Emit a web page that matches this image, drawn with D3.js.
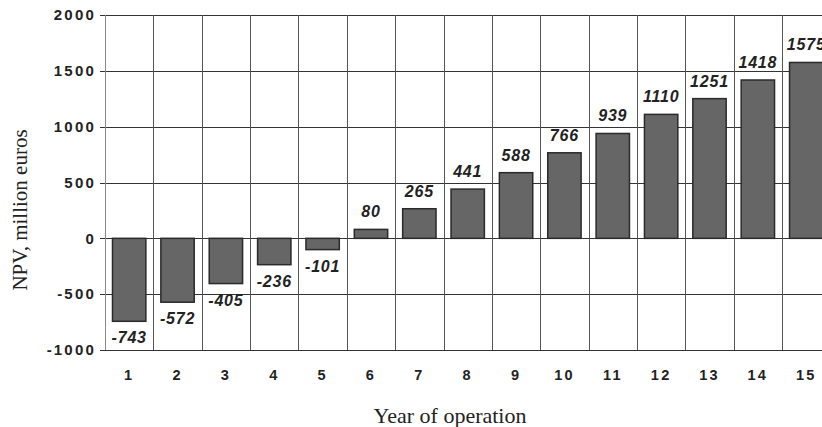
<!doctype html>
<html>
<head>
<meta charset="UTF-8">
<title>NPV</title>
<script src="https://d3js.org/d3.v7.min.js"></script>
<style>
  body { margin: 0; background: #fff; }
  svg { display: block; }
</style>
</head>
<body>
<script>
var years = [1, 2, 3, 4, 5, 6, 7, 8, 9, 10, 11, 12, 13, 14, 15];
var npv = [-743, -572, -405, -236, -101, 80, 265, 441, 588, 766, 939, 1110, 1251, 1418, 1575];
var yTicks = [-1000, -500, 0, 500, 1000, 1500, 2000];

var w = 822, h = 427;
var pLeft = 105, pTop = 15, pRight = 830.4, pBottom = 350;

var svg = d3.select("body").append("svg")
    .attr("width", w)
    .attr("height", h);

var x = d3.scaleBand()
    .domain(years)
    .range([pLeft, pRight])
    .paddingInner(0.31)
    .paddingOuter(0.155);

var step = (pRight - pLeft) / years.length;

var y = d3.scaleLinear()
    .domain([-1000, 2000])
    .range([pBottom, pTop]);

//grid-----------------------
var grid = svg.append("g");
grid.selectAll("line.h")
    .data(yTicks)
    .enter().append("line")
    .attr("class", "h")
    .attr("x1", pLeft - 5)
    .attr("x2", pRight)
    .attr("y1", function(d){ return Math.round(y(d)) + 0.5; })
    .attr("y2", function(d){ return Math.round(y(d)) + 0.5; })
    .attr("stroke", "#333")
    .attr("stroke-width", 1);

grid.selectAll("line.v")
    .data(d3.range(years.length + 1))
    .enter().append("line")
    .attr("class", "v")
    .attr("x1", function(i){ return Math.round(pLeft + i * step) + 0.5; })
    .attr("x2", function(i){ return Math.round(pLeft + i * step) + 0.5; })
    .attr("y1", pTop)
    .attr("y2", pBottom)
    .attr("stroke", function(i){ return i == 0 ? "#888" : "#555"; })
    .attr("stroke-width", 1);

//bars-----------------------
svg.selectAll("rect")
    .data(npv)
    .enter().append("rect")
    .attr("x", function(d, i){ return x(years[i]); })
    .attr("y", function(d){ return y(Math.max(0, d)); })
    .attr("width", x.bandwidth())
    .attr("height", function(d){ return Math.abs(y(d) - y(0)); })
    .attr("fill", "#666")
    .attr("stroke", "#2a2a2a")
    .attr("stroke-width", 1.5);

//value labels-----------------------
svg.selectAll("text.val")
    .data(npv)
    .enter().append("text")
    .attr("class", "val")
    .attr("x", function(d, i){ return x(years[i]) + x.bandwidth() / 2; })
    .attr("y", function(d){ return d >= 0 ? y(d) - 12 : y(d) + 22; })
    .attr("text-anchor", "middle")
    .attr("font-family", "Liberation Sans, Arial, sans-serif")
    .attr("font-weight", "bold")
    .attr("font-style", "italic")
    .attr("font-size", 16)
    .attr("letter-spacing", 0.8)
    .attr("fill", "#222")
    .text(function(d){ return d; });

//axes-----------------------
var yAxis = svg.append("g")
    .attr("transform", "translate(" + pLeft + ",0)")
    .call(d3.axisLeft(y).tickValues(yTicks).tickFormat(function(d){ return String(d); }).tickSize(0).tickPadding(9));
yAxis.select(".domain").remove();
yAxis.selectAll("text")
    .attr("font-family", "Liberation Sans, Arial, sans-serif")
    .attr("font-weight", "bold")
    .attr("font-size", 15)
    .attr("letter-spacing", 2.2)
    .attr("fill", "#222");

var xAxis = svg.append("g")
    .attr("transform", "translate(0," + pBottom + ")")
    .call(d3.axisBottom(x).tickSize(0).tickPadding(20));
xAxis.select(".domain").remove();
xAxis.selectAll("text")
    .attr("font-family", "Liberation Sans, Arial, sans-serif")
    .attr("font-weight", "bold")
    .attr("font-size", 14.5)
    .attr("letter-spacing", 2.2)
    .attr("fill", "#222");

//titles-----------------------
svg.append("text")
    .attr("x", 450)
    .attr("y", 423)
    .attr("text-anchor", "middle")
    .attr("font-family", "Liberation Serif, Times New Roman, serif")
    .attr("font-size", 22)
    .attr("fill", "#222")
    .text("Year of operation");

svg.append("text")
    .attr("transform", "translate(27,210) rotate(-90)")
    .attr("text-anchor", "middle")
    .attr("font-family", "Liberation Serif, Times New Roman, serif")
    .attr("font-size", 21)
    .attr("fill", "#222")
    .text("NPV, million euros");
</script>
</body>
</html>
